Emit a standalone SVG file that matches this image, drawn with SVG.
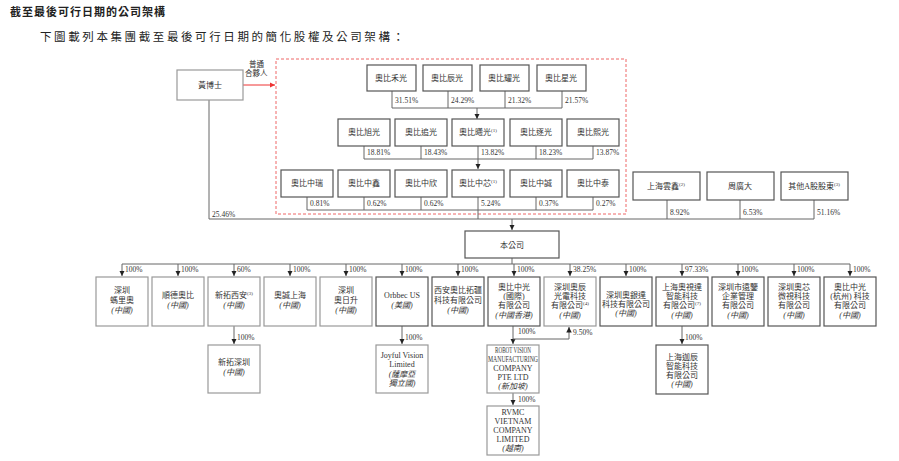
<svg xmlns="http://www.w3.org/2000/svg" width="899" height="461" viewBox="0 0 899 461">
<style>
text{font-family:"Liberation Serif","Noto Sans CJK TC",serif;fill:#333}
.t{font-size:8px;text-anchor:middle}
.p{font-size:7.5px;fill:#444}
.b{fill:#fff;stroke:#555;stroke-width:1.2}
.l{fill:#fff;stroke:#999;stroke-width:1.2}
.c{fill:none;stroke:#666;stroke-width:1}
.i{font-style:italic}
</style>
<defs>
<marker id="a" viewBox="0 0 10 10" refX="10" refY="5" markerWidth="5.5" markerHeight="5.5" orient="auto"><path d="M0,0L10,5L0,10z" fill="#222"/></marker>
<marker id="r" viewBox="0 0 10 10" refX="10" refY="5" markerWidth="5.5" markerHeight="5.5" orient="auto"><path d="M0,0L10,5L0,10z" fill="#e33"/></marker>
</defs>
<text x="10" y="16" style="font-size:11px;font-weight:bold;fill:#222;letter-spacing:1px">截至最後可行日期的公司架構</text>
<text x="40" y="41" style="font-size:11.5px;fill:#222;letter-spacing:2.6px">下圖載列本集團截至最後可行日期的簡化股權及公司架構：</text>
<rect x="276" y="59" width="350" height="155" fill="none" stroke="#e66" stroke-dasharray="3,2"/>
<g id="connectors">
<line x1="243" y1="85" x2="275" y2="85" stroke="#e33" marker-end="url(#r)"/>
<path class="c" d="M392,91V108H562V91M448,91V108M505,91V108"/>
<path class="c" d="M477,108V119" marker-end="url(#a)"/>
<path class="c" d="M364,146V159H593V146M421,146V159M478,146V159M536,146V159"/>
<path class="c" d="M478,159V169" marker-end="url(#a)"/>
<path class="c" d="M307,197V210H593V197M364,197V210M421,210V197M536,197V210M478,197V219"/>
<path class="c" d="M209,100V219H814V200M667,200V219M740,200V219"/>
<path class="c" d="M512,219V230" marker-end="url(#a)"/>
<path class="c" d="M512,258V264M122,264H850"/>
<g marker-end="url(#a)" class="c">
<path d="M122,264V276"/><path d="M178,264V276"/><path d="M234,264V276"/><path d="M290,264V276"/><path d="M346,264V276"/><path d="M402,264V276"/><path d="M458,264V276"/><path d="M514,264V276"/><path d="M570,264V276"/><path d="M626,264V276"/><path d="M682,264V276"/><path d="M738,264V276"/><path d="M794,264V276"/><path d="M850,264V276"/>
<path d="M234,326V344"/><path d="M402,326V344"/><path d="M682,326V344"/>
<path d="M513,326V344"/><path d="M513,339H569V327"/><path d="M513,393V405"/>
</g>
</g>
<g class="p">
<text x="249" y="67">普通</text><text x="245" y="76">合夥人</text>
<text x="395" y="103">31.51%</text><text x="451" y="103">24.29%</text><text x="508" y="103">21.32%</text><text x="565" y="103">21.57%</text>
<text x="367" y="155">18.81%</text><text x="424" y="155">18.43%</text><text x="481" y="155">13.82%</text><text x="539" y="155">18.23%</text><text x="596" y="155">13.87%</text>
<text x="310" y="206">0.81%</text><text x="367" y="206">0.62%</text><text x="424" y="206">0.62%</text><text x="481" y="206">5.24%</text><text x="539" y="206">0.37%</text><text x="596" y="206">0.27%</text>
<text x="212" y="217">25.46%</text><text x="670" y="215">8.92%</text><text x="743" y="215">6.53%</text><text x="817" y="215">51.16%</text>
<text x="125" y="272">100%</text><text x="181" y="272">100%</text><text x="237" y="272">60%</text><text x="293" y="272">100%</text><text x="349" y="272">100%</text><text x="405" y="272">100%</text><text x="461" y="272">100%</text><text x="517" y="272">100%</text><text x="573" y="272">38.25%</text><text x="629" y="272">100%</text><text x="685" y="272">97.33%</text><text x="741" y="272">100%</text><text x="797" y="272">100%</text><text x="853" y="272">100%</text>
<text x="237" y="340">100%</text><text x="405" y="340">100%</text><text x="685" y="340">100%</text><text x="518" y="334">100%</text><text x="573" y="335">9.50%</text><text x="518" y="402">100%</text>
</g>
<g id="n0"><rect class="l" x="177" y="70" width="66" height="30"/><text class="t" x="210" y="88">黃博士</text></g>
<g id="r1a"><rect class="b" x="367" y="65" width="49" height="26"/><text class="t" x="391" y="81">奧比禾光</text></g>
<g id="r1b"><rect class="b" x="423" y="65" width="49" height="26"/><text class="t" x="447" y="81">奧比辰光</text></g>
<g id="r1c"><rect class="b" x="480" y="65" width="49" height="26"/><text class="t" x="504" y="81">奧比耀光</text></g>
<g id="r1d"><rect class="b" x="537" y="65" width="49" height="26"/><text class="t" x="561" y="81">奧比星光</text></g>
<g id="r2a"><rect class="b" x="338" y="119" width="52" height="27"/><text class="t" x="364" y="135">奧比旭光</text></g>
<g id="r2b"><rect class="b" x="395" y="119" width="52" height="27"/><text class="t" x="421" y="135">奧比追光</text></g>
<g id="r2c"><rect class="b" x="452" y="119" width="52" height="27"/><text class="t" x="478" y="135">奧比曦光<tspan font-size="5" dy="-3">(1)</tspan></text></g>
<g id="r2d"><rect class="b" x="510" y="119" width="52" height="27"/><text class="t" x="536" y="135">奧比逐光</text></g>
<g id="r2e"><rect class="b" x="567" y="119" width="52" height="27"/><text class="t" x="593" y="135">奧比熙光</text></g>
<g id="r3a"><rect class="b" x="281" y="170" width="52" height="27"/><text class="t" x="307" y="186">奧比中瑞</text></g>
<g id="r3b"><rect class="b" x="338" y="170" width="52" height="27"/><text class="t" x="364" y="186">奧比中鑫</text></g>
<g id="r3c"><rect class="b" x="395" y="170" width="52" height="27"/><text class="t" x="421" y="186">奧比中欣</text></g>
<g id="r3d"><rect class="b" x="452" y="170" width="52" height="27"/><text class="t" x="478" y="186">奧比中芯<tspan font-size="5" dy="-3">(1)</tspan></text></g>
<g id="r3e"><rect class="b" x="510" y="170" width="52" height="27"/><text class="t" x="536" y="186">奧比中誠</text></g>
<g id="r3f"><rect class="b" x="567" y="170" width="52" height="27"/><text class="t" x="593" y="186">奧比中泰</text></g>
<g id="s1"><rect class="b" x="633" y="172" width="67" height="28"/><text class="t" x="666" y="189">上海雲鑫<tspan font-size="5" dy="-3">(2)</tspan></text></g>
<g id="s2"><rect class="b" x="707" y="172" width="67" height="28"/><text class="t" x="740" y="189">周廣大</text></g>
<g id="s3"><rect class="b" x="781" y="172" width="67" height="28"/><text class="t" x="814" y="189">其他A股股東<tspan font-size="5" dy="-3">(3)</tspan></text></g>
<g id="co"><rect class="b" x="465" y="231" width="94" height="27"/><text class="t" x="512" y="248">本公司</text></g>
<g id="c1"><rect class="l" x="96" y="277" width="52" height="49"/><text class="t" x="122" y="293">深圳</text><text class="t" x="122" y="303">螞里奧</text><text class="t i" x="122" y="313">(中國)</text></g>
<g id="c2"><rect class="l" x="152" y="277" width="52" height="49"/><text class="t" x="178" y="298">順德奧比</text><text class="t i" x="178" y="308">(中國)</text></g>
<g id="c3"><rect class="l" x="208" y="277" width="52" height="49"/><text class="t" x="234" y="298">新拓西安<tspan font-size="5" dy="-3">(3)</tspan></text><text class="t i" x="234" y="308">(中國)</text></g>
<g id="c4"><rect class="l" x="264" y="277" width="52" height="49"/><text class="t" x="290" y="298">奧誠上海</text><text class="t i" x="290" y="308">(中國)</text></g>
<g id="c5"><rect class="l" x="320" y="277" width="52" height="49"/><text class="t" x="346" y="293">深圳</text><text class="t" x="346" y="303">奧日升</text><text class="t i" x="346" y="313">(中國)</text></g>
<g id="c6"><rect class="b" x="376" y="277" width="52" height="49"/><text class="t" x="402" y="298">Orbbec US</text><text class="t i" x="402" y="308">(美國)</text></g>
<g id="c7"><rect class="b" x="432" y="277" width="52" height="49"/><text class="t" x="458" y="293">西安奧比拓疆</text><text class="t" x="458" y="303">科技有限公司</text><text class="t i" x="458" y="313">(中國)</text></g>
<g id="c8"><rect class="b" x="488" y="277" width="52" height="49"/><text class="t" x="514" y="290">奧比中光</text><text class="t" x="514" y="299">(國際)</text><text class="t" x="514" y="308">有限公司</text><text class="t i" x="514" y="318">(中國香港)</text></g>
<g id="c9"><rect class="l" x="544" y="277" width="52" height="49"/><text class="t" x="570" y="290">深圳奧辰</text><text class="t" x="570" y="299">光電科技</text><text class="t" x="570" y="308">有限公司<tspan font-size="5" dy="-3">(4)</tspan></text><text class="t i" x="570" y="318">(中國)</text></g>
<g id="c10"><rect class="b" x="600" y="277" width="52" height="49"/><text class="t" x="626" y="298">深圳奧銀達</text><text class="t" x="626" y="307">科技有限公司</text><text class="t i" x="626" y="316">(中國)</text></g>
<g id="c11"><rect class="b" x="656" y="277" width="52" height="49"/><text class="t" x="682" y="290">上海奧視達</text><text class="t" x="682" y="299">智能科技</text><text class="t" x="682" y="308">有限公司<tspan font-size="5" dy="-3">(7)</tspan></text><text class="t i" x="682" y="318">(中國)</text></g>
<g id="c12"><rect class="b" x="712" y="277" width="52" height="49"/><text class="t" x="738" y="290">深圳市遠鑒</text><text class="t" x="738" y="299">企業管理</text><text class="t" x="738" y="308">有限公司</text><text class="t i" x="738" y="318">(中國)</text></g>
<g id="c13"><rect class="b" x="768" y="277" width="52" height="49"/><text class="t" x="794" y="290">深圳奧芯</text><text class="t" x="794" y="299">微視科技</text><text class="t" x="794" y="308">有限公司</text><text class="t i" x="794" y="318">(中國)</text></g>
<g id="c14"><rect class="b" x="824" y="277" width="52" height="49"/><text class="t" x="850" y="290">奧比中光</text><text class="t" x="850" y="299">(杭州) 科技</text><text class="t" x="850" y="308">有限公司</text><text class="t i" x="850" y="318">(中國)</text></g>
<g id="d1"><rect class="l" x="208" y="345" width="52" height="48"/><text class="t" x="234" y="365">新拓深圳</text><text class="t i" x="234" y="375">(中國)</text></g>
<g id="d2"><rect class="l" x="376" y="345" width="52" height="48"/><text class="t" x="402" y="358">Joyful Vision</text><text class="t" x="402" y="367">Limited</text><text class="t i" x="402" y="377">(薩摩亞</text><text class="t i" x="402" y="386">獨立國)</text></g>
<g id="d3"><rect class="l" x="487" y="345" width="52" height="48"/><text class="t" x="513" y="353" font-size="5" textLength="36" lengthAdjust="spacingAndGlyphs">ROBOT VISION</text><text class="t" x="513" y="362" font-size="5" textLength="50" lengthAdjust="spacingAndGlyphs">MANUFACTURING</text><text class="t" x="513" y="371" font-size="5">COMPANY</text><text class="t" x="513" y="380" font-size="5">PTE LTD</text><text class="t i" x="513" y="389">(新加坡)</text></g>
<g id="d4"><rect class="b" x="656" y="345" width="52" height="49"/><text class="t" x="682" y="360">上海迦辰</text><text class="t" x="682" y="369">智能科技</text><text class="t" x="682" y="378">有限公司</text><text class="t i" x="682" y="387">(中國)</text></g>
<g id="d5"><rect class="l" x="487" y="406" width="52" height="49"/><text class="t" x="513" y="415">RVMC</text><text class="t" x="513" y="424">VIETNAM</text><text class="t" x="513" y="433">COMPANY</text><text class="t" x="513" y="442">LIMITED</text><text class="t i" x="513" y="451">(越南)</text></g>
</svg>
